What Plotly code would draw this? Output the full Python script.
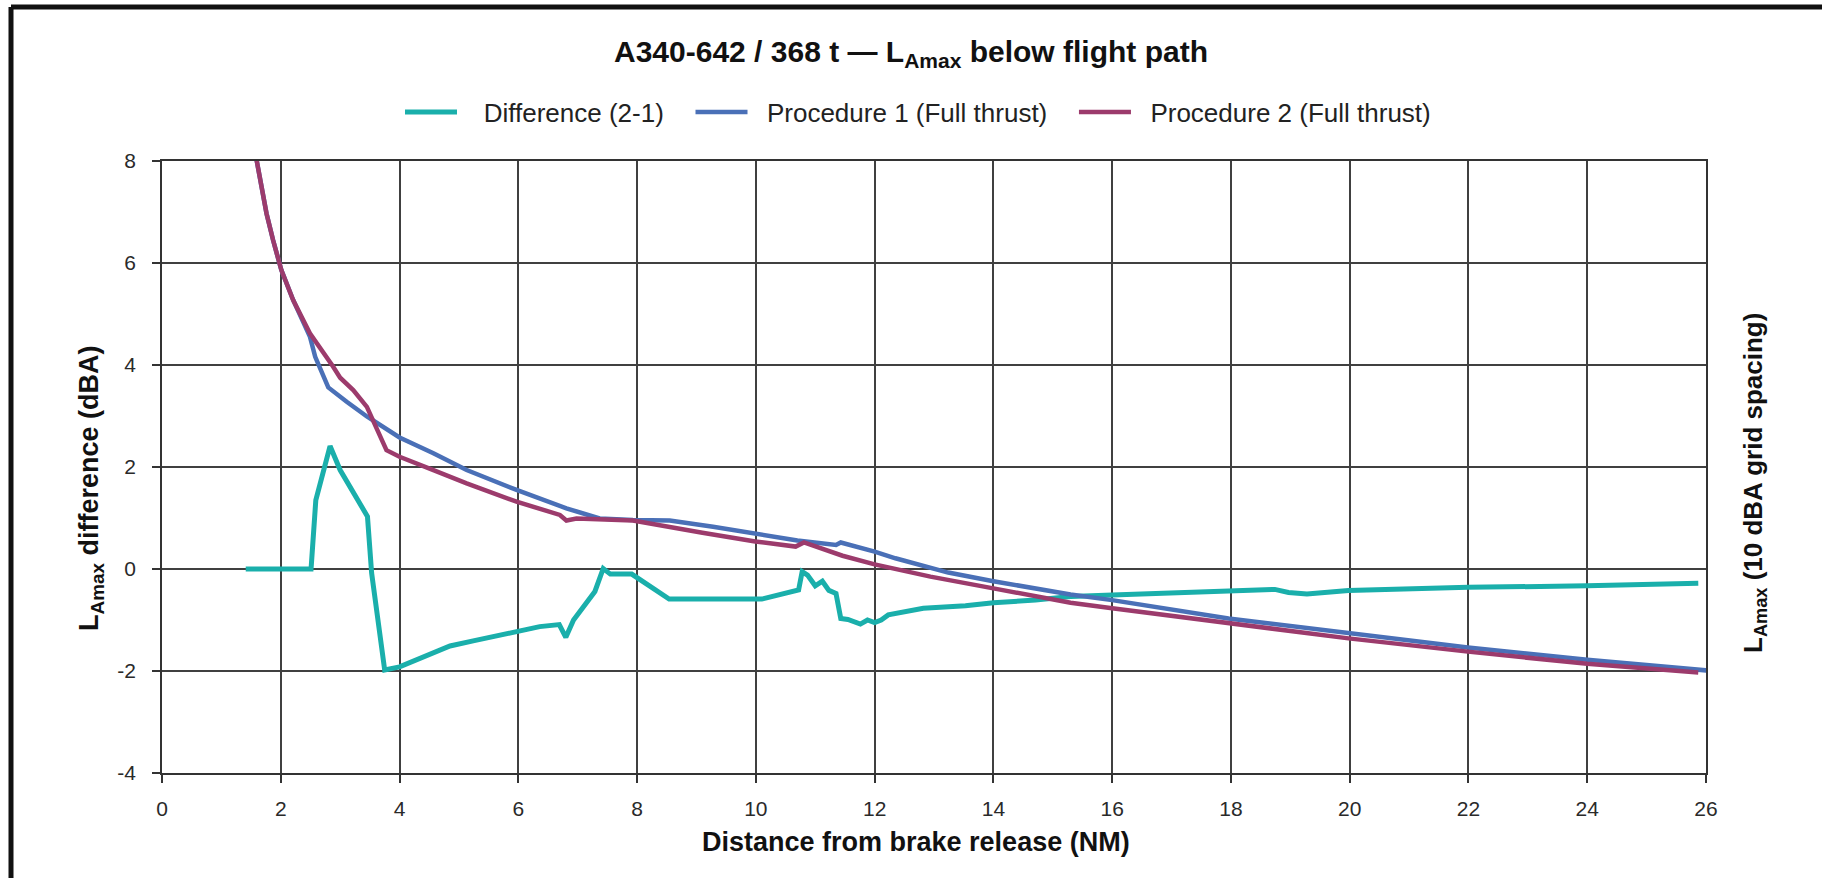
import plotly.graph_objects as go

# ---- data ----
diff_x = [1.41, 2.51, 2.59, 2.83, 3.0, 3.39, 3.46, 3.53, 3.75, 4.0, 4.51, 4.85, 5.24, 5.97, 6.36,
          6.69, 6.80, 6.93, 7.15, 7.29, 7.43, 7.55, 7.91, 8.1, 8.54, 10.1, 10.64, 10.72, 10.78,
          10.87, 11.0, 11.12, 11.23, 11.35, 11.43, 11.55, 11.76, 11.88, 12.0, 12.11, 12.23, 12.47,
          12.82, 13.53, 14.0, 14.71, 15.3, 16.0, 17.96, 18.5, 18.74, 18.97, 19.28, 19.98, 21.99,
          24.0, 25.87]
diff_y = [0, 0, 1.35, 2.41, 1.94, 1.19, 1.03, -0.08, -1.98, -1.92, -1.67, -1.51, -1.41, -1.23, -1.13,
          -1.09, -1.34, -1.0, -0.64, -0.44, 0.01, -0.1, -0.1, -0.25, -0.59, -0.59, -0.43, -0.41, -0.05,
          -0.12, -0.33, -0.24, -0.42, -0.48, -0.97, -0.99, -1.08, -1.0, -1.05, -1.0, -0.9, -0.84,
          -0.77, -0.72, -0.66, -0.61, -0.54, -0.51, -0.43, -0.39, -0.4, -0.46, -0.49, -0.42, -0.36,
          -0.33, -0.28]

p1_x = [1.58, 1.76, 1.87, 2.01, 2.21, 2.49, 2.58, 2.8, 3.11, 3.45, 4.0, 4.57, 5.13, 5.97, 6.81,
        7.37, 7.93, 8.55, 9.28, 9.99, 10.7, 11.35, 11.43, 12.0, 12.35, 13.24, 14.0, 15.3, 16.0,
        17.96, 19.98, 21.99, 24.0, 26.02]
p1_y = [8.1, 6.97, 6.45, 5.86, 5.27, 4.56, 4.16, 3.56, 3.28, 2.99, 2.58, 2.27, 1.94, 1.55, 1.19,
        0.99, 0.96, 0.95, 0.83, 0.69, 0.56, 0.47, 0.52, 0.34, 0.21, -0.07, -0.24, -0.5, -0.61,
        -0.97, -1.26, -1.54, -1.78, -1.99]

p2_x = [1.58, 1.76, 1.87, 2.01, 2.21, 2.49, 2.88, 3.0, 3.22, 3.45, 3.78, 4.0, 4.57, 5.13, 5.97,
        6.7, 6.81, 6.98, 7.93, 8.5, 9.1, 9.99, 10.67, 10.81, 11.05, 11.46, 12.0, 12.94, 14.0,
        15.3, 16.0, 17.96, 19.98, 21.99, 24.0, 25.87]
p2_y = [8.1, 6.97, 6.45, 5.86, 5.27, 4.62, 3.97, 3.75, 3.51, 3.18, 2.33, 2.2, 1.94, 1.68, 1.32,
        1.06, 0.95, 0.99, 0.95, 0.83, 0.71, 0.54, 0.44, 0.52, 0.43, 0.26, 0.09, -0.15, -0.38,
        -0.66, -0.77, -1.07, -1.36, -1.62, -1.86, -2.03]

x_ticks = [0, 2, 4, 6, 8, 10, 12, 14, 16, 18, 20, 22, 24, 26]
x_tick_text = ["0", "2", "4", "6", "8", "10", "12", "14", "16", "18", "20", "22", "24", "26"]
y_ticks = [-4, -2, 0, 2, 4, 6, 8]
y_tick_text = ["-4", "-2", "0", "2", "4", "6", "8"]

names = ["Difference (2-1)", "Procedure 1 (Full thrust)", "Procedure 2 (Full thrust)"]
colors = ["#1aafab", "#4a70b7", "#9c3b6c"]

FONT = "Arial, Liberation Sans, sans-serif"
W, H = 1822, 878
L, R, T, B = 162, 116, 161, 105
PW, PH = W - L - R, H - T - B


def px2paper(px, py):
    return (px - L) / PW, (H - B - py) / PH


NB = "\u00a0"
fig = go.Figure()
fig.add_trace(go.Scatter(x=diff_x, y=diff_y, mode="lines", name=NB * 3 + names[0] + NB * 3,
                         line=dict(color=colors[0], width=5)))
fig.add_trace(go.Scatter(x=p1_x, y=p1_y, mode="lines", name=NB * 2 + names[1] + NB * 3,
                         line=dict(color=colors[1], width=4.5)))
fig.add_trace(go.Scatter(x=p2_x, y=p2_y, mode="lines", name=NB * 2 + names[2],
                         line=dict(color=colors[2], width=4.5)))

grid = "#404040"
fig.update_xaxes(range=[0, 26], tickvals=x_ticks, ticktext=x_tick_text,
                 showgrid=True, gridcolor=grid, gridwidth=1.5,
                 showline=True, linecolor="#333", linewidth=1.5, mirror=True,
                 ticks="outside", ticklen=8, tickwidth=1.5, tickcolor="#333",
                 tickfont=dict(family=FONT, size=21, color="#2a2a2a"), ticklabelstandoff=8,
                 zeroline=False, fixedrange=True)
fig.update_yaxes(range=[-4, 8], tickvals=y_ticks, ticktext=y_tick_text,
                 showgrid=True, gridcolor=grid, gridwidth=1.5,
                 showline=True, linecolor="#333", linewidth=1.5, mirror=True,
                 ticks="outside", ticklen=8, tickwidth=1.5, tickcolor="#333",
                 tickfont=dict(family=FONT, size=21, color="#2a2a2a"), ticklabelstandoff=12,
                 zeroline=False, fixedrange=True)

lx, ly = px2paper(91, 489)
rx, ry = px2paper(1754, 483)
xx, xy = px2paper(916, 842)
annotations = [
    dict(text="<b>L<sub>Amax</sub> difference (dBA)</b>", x=lx, y=ly, xref="paper", yref="paper",
         textangle=-90, showarrow=False, xanchor="center", yanchor="middle",
         font=dict(family=FONT, size=27, color="#111")),
    dict(text="<b>L<sub>Amax</sub> (10 dBA grid spacing)</b>", x=rx, y=ry, xref="paper", yref="paper",
         textangle=-90, showarrow=False, xanchor="center", yanchor="middle",
         font=dict(family=FONT, size=26, color="#111")),
    dict(text="<b>Distance from brake release (NM)</b>", x=xx, y=xy, xref="paper", yref="paper",
         showarrow=False, xanchor="center", yanchor="middle",
         font=dict(family=FONT, size=27, color="#111")),
]

fx0, fy0 = px2paper(11, 7)
fx1, _ = px2paper(W + 5, 7)
_, fyb = px2paper(11, H + 5)
shapes = [
    dict(type="line", xref="paper", yref="paper", x0=fx0, x1=fx1, y0=fy0, y1=fy0,
         line=dict(color="#111", width=5)),
    dict(type="line", xref="paper", yref="paper", x0=fx0, x1=fx0, y0=fy0, y1=fyb,
         line=dict(color="#111", width=5)),
]

legx, legy = px2paper(918, 112)
fig.update_layout(
    width=W, height=H, autosize=False,
    margin=dict(l=L, r=R, t=T, b=B, pad=0),
    paper_bgcolor="white", plot_bgcolor="white",
    title=dict(text="<b>A340-642 / 368 t — L<sub>Amax</sub> below flight path</b>",
               x=0.5, xref="container", xanchor="center",
               y=1 - 51 / H, yref="container", yanchor="middle",
               font=dict(family=FONT, size=30, color="#111")),
    legend=dict(orientation="h", x=legx, y=legy, xanchor="center", yanchor="middle",
                font=dict(family=FONT, size=26, color="#222"), itemwidth=52,
                bgcolor="rgba(0,0,0,0)", traceorder="normal"),
    annotations=annotations,
    shapes=shapes,
    showlegend=True,
)

fig.write_html("out.html", config={"displayModeBar": False},
               post_script="document.body.style.margin='0px';")
